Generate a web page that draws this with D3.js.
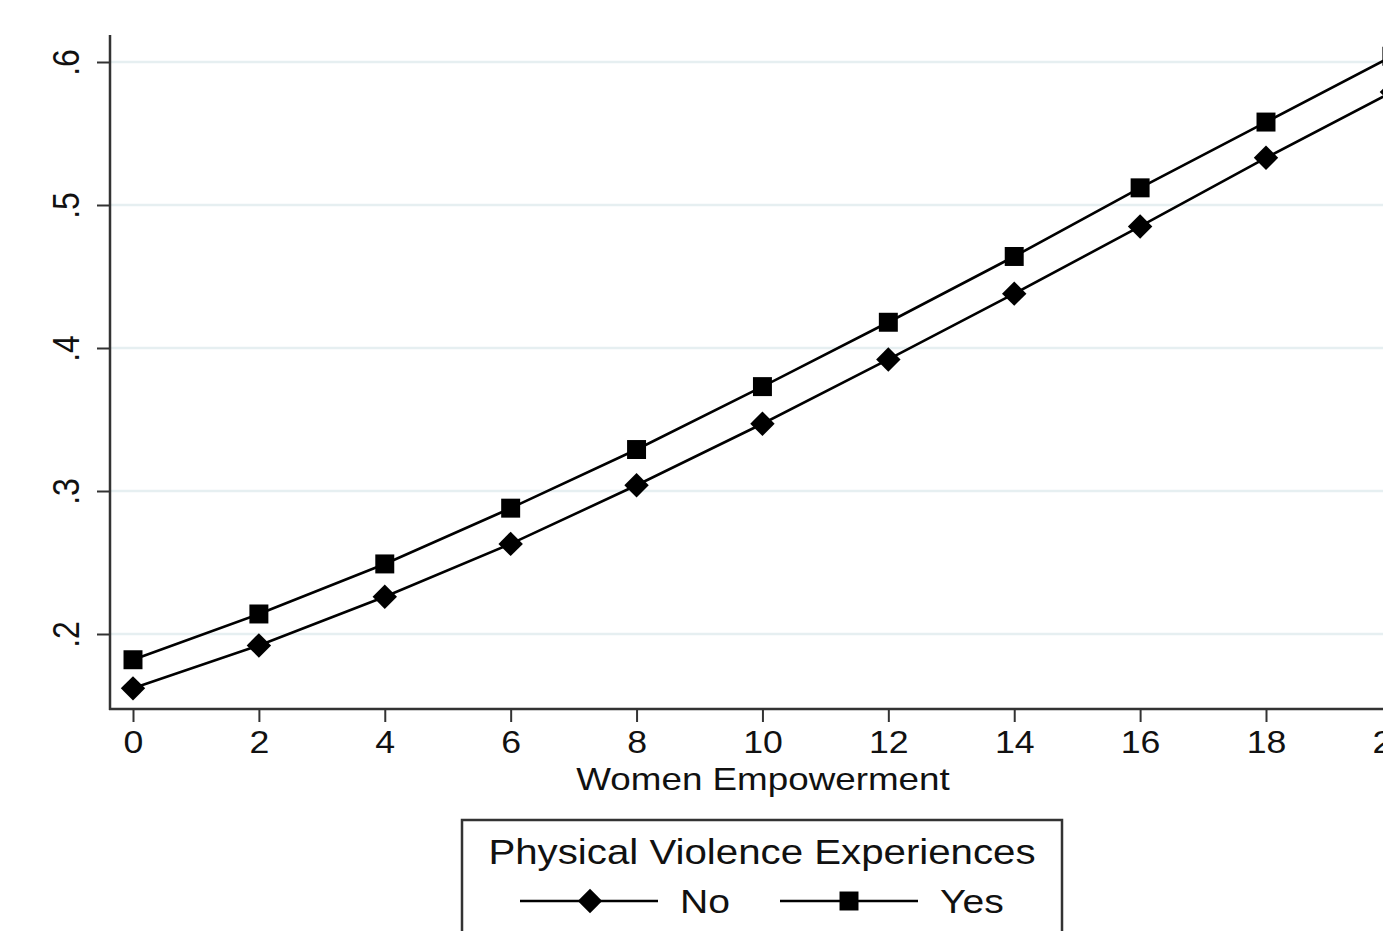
<!DOCTYPE html>
<html>
<head>
<meta charset="utf-8">
<script src="https://cdn.jsdelivr.net/npm/d3@7"></script>
<style>
  body { margin: 0; background: #fff; overflow: hidden; }
  text { font-family: "Liberation Sans", Arial, sans-serif; fill: #111; }
</style>
</head>
<body>
<div class="chart"></div>
<script>
// values
var empowerment = [0, 2, 4, 6, 8, 10, 12, 14, 16, 18, 20];
var violenceNo  = [0.162, 0.192, 0.226, 0.263, 0.304, 0.347, 0.392, 0.438, 0.485, 0.533, 0.579];
var violenceYes = [0.182, 0.214, 0.249, 0.288, 0.329, 0.373, 0.418, 0.464, 0.512, 0.558, 0.604];
var xTicks = [0, 2, 4, 6, 8, 10, 12, 14, 16, 18, 20];
var yTicks = [0.2, 0.3, 0.4, 0.5, 0.6];
var seriesNames = ["No", "Yes"];
var legendTitle = "Physical Violence Experiences";
var xTitle = "Women Empowerment";

var width = 1383, height = 931;
var stretch = 1.15; // text in the picture is a little wider than plain Arial
var axisColor = "#333";

var x = d3.scaleLinear().domain([0, 18]).range([133, 1266]);
var y = d3.scaleLinear().domain([0.2, 0.6]).range([634, 62]);
var plotLeft = 110, plotTop = 35, plotBottom = 709;

var svg = d3.select(".chart").append("svg")
    .attr("width", width).attr("height", height);

// grid lines
svg.append("g").selectAll("line")
    .data(yTicks).enter().append("line")
    .attr("x1", plotLeft).attr("x2", width + 50)
    .attr("y1", function(d){ return y(d); })
    .attr("y2", function(d){ return y(d); })
    .attr("stroke", "#e6eff1").attr("stroke-width", 2.5);

// y axis
var yAxis = d3.axisLeft(y).tickValues(yTicks).tickSize(13).tickFormat(function(d){
    return d3.format(".1f")(d).replace(/^0/, "");
});
var gy = svg.append("g").attr("transform", "translate(" + plotLeft + ",0)").call(yAxis);
gy.select(".domain").remove();
gy.selectAll(".tick line").attr("stroke", axisColor).attr("stroke-width", 2);
gy.selectAll(".tick text")
    .attr("x", null).attr("dy", null)
    .attr("text-anchor", "middle")
    .attr("font-size", 32)
    .attr("transform", "translate(-31,0) scale(" + stretch + ",1) rotate(-90)");
svg.append("line")
    .attr("x1", plotLeft).attr("x2", plotLeft)
    .attr("y1", plotTop).attr("y2", plotBottom + 1)
    .attr("stroke", axisColor).attr("stroke-width", 2.5);

// x axis
var xAxis = d3.axisBottom(x).tickValues(xTicks).tickSize(13).tickFormat(d3.format("d"));
var gx = svg.append("g").attr("transform", "translate(0," + plotBottom + ")").call(xAxis);
gx.select(".domain").remove();
gx.selectAll(".tick line").attr("stroke", axisColor).attr("stroke-width", 2);
gx.selectAll(".tick text")
    .attr("y", null).attr("dy", null)
    .attr("font-size", 31)
    .attr("transform", "translate(0,44) scale(" + stretch + ",1)");
svg.append("line")
    .attr("x1", plotLeft - 1).attr("x2", width + 50)
    .attr("y1", plotBottom).attr("y2", plotBottom)
    .attr("stroke", axisColor).attr("stroke-width", 2.5);

svg.append("text")
    .attr("text-anchor", "middle")
    .attr("font-size", 32)
    .attr("transform", "translate(763,790) scale(" + stretch + ",1)")
    .text(xTitle);

// series
var diamond = d3.symbol().type(d3.symbolDiamond2).size(380);
var square = d3.symbol().type(d3.symbolSquare).size(360);
var series = [
    { name: seriesNames[0], values: violenceNo, symbol: diamond },
    { name: seriesNames[1], values: violenceYes, symbol: square }
];
var line = d3.line()
    .x(function(d, i){ return x(empowerment[i]); })
    .y(function(d){ return y(d); });

series.forEach(function(s){
    svg.append("path")
        .attr("d", line(s.values))
        .attr("fill", "none").attr("stroke", "#000").attr("stroke-width", 2.6);
    svg.append("g").selectAll("path")
        .data(s.values).enter().append("path")
        .attr("d", s.symbol)
        .attr("fill", "#000")
        .attr("transform", function(d, i){
            return "translate(" + x(empowerment[i]) + "," + y(d) + ")";
        });
});

// legend
var legend = svg.append("g");
legend.append("rect")
    .attr("x", 462).attr("y", 820).attr("width", 600).attr("height", 160)
    .attr("fill", "#fff").attr("stroke", axisColor).attr("stroke-width", 2.5);
legend.append("text")
    .attr("text-anchor", "middle").attr("font-size", 35)
    .attr("transform", "translate(762,864) scale(" + stretch + ",1)")
    .text(legendTitle);

var keyX = [520, 780];
series.forEach(function(s, i){
    var k = legend.append("g").attr("transform", "translate(" + keyX[i] + ",901)");
    k.append("line").attr("x1", 0).attr("x2", 138)
        .attr("stroke", "#000").attr("stroke-width", 2.6);
    k.append("path").attr("d", s.symbol).attr("fill", "#000")
        .attr("transform", "translate(" + (i === 0 ? 70 : 69) + ",0)");
    k.append("text").attr("font-size", 34)
        .attr("transform", "translate(160,12) scale(" + stretch + ",1)")
        .text(s.name);
});
</script>
</body>
</html>
